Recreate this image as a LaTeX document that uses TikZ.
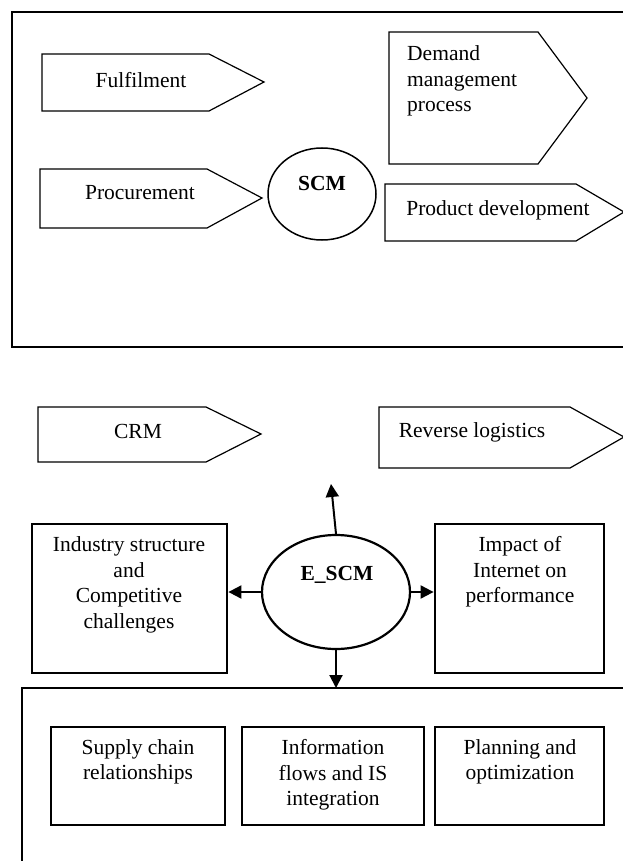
\documentclass[tikz,border=0pt]{standalone}
\usepackage{fontspec}
\setmainfont{Liberation Serif}
\usetikzlibrary{arrows.meta,positioning,shapes.geometric}
\tikzset{
  txt/.style={font=\fontsize{21.5}{25.5}\selectfont,inner sep=0pt,align=center},
  pentagon/.style={draw,line width=1.2pt,line join=miter},
  frame/.style={draw,line width=2.8pt},
  sidebox/.style={draw,line width=2.8pt,minimum height=149pt},
  factor/.style={draw,line width=2pt,minimum height=98pt},
  link/.style={line width=2pt,-{Triangle[length=13pt,width=13pt]}},
}

\begin{document}
\begin{tikzpicture}[x=1pt,y=-1pt]
        \clip (0,0) rectangle (623,861);
        % SCM part
        \draw[frame] (640,12) -- (12,12) -- (12,347) -- (640,347);
        \draw[pentagon] (42,54) -- (209,54) -- (264,82) -- (209,111) -- (42,111) -- cycle;
        \draw[pentagon] (40,169) -- (207,169) -- (262,198) -- (207,228) -- (40,228) -- cycle;
        \draw[pentagon] (389,32) -- (538,32) -- (587,98) -- (538,164) -- (389,164) -- cycle;
        \draw[pentagon] (385,184) -- (576,184) -- (624,212) -- (576,241) -- (385,241) -- cycle;
        \node[txt] (fulfil) at (141,80) {Fulfilment};
        \node[txt] (procure) at (140,193) {Procurement};
        \node[txt,anchor=west,align=left] (demand) at (407,81) {Demand\\management\\process};
        \node[txt] (product) at (498,210) {Product development};
        \node[ellipse,draw,line width=1.5pt,minimum width=108pt,minimum height=92pt] (scm) at (322,194) {};
        \node[txt,font=\fontsize{21.5}{25.5}\selectfont\bfseries] (scmtxt) at (322,183) {SCM};
        % E_SCM part
        \draw[pentagon] (38,407) -- (206,407) -- (261,434) -- (206,462) -- (38,462) -- cycle;
        \draw[pentagon] (379,407) -- (570,407) -- (624,437) -- (570,468) -- (379,468) -- cycle;
        \node[txt] (crm) at (138,431) {CRM};
        \node[txt] (reverse) at (472,432) {Reverse logistics};
        \node[ellipse,draw,line width=2.2pt,minimum width=148pt,minimum height=114pt] (escm) at (336,592) {};
        \node[txt,font=\fontsize{21.5}{25.5}\selectfont\bfseries] (escmtxt) at (337,575) {E\_SCM};
        \node[sidebox,minimum width=195pt] (ind) at (129.5,598.5) {};
        \node[sidebox,minimum width=169pt] (imp) at (519.5,598.5) {};
        \node[txt] (indtxt) at (129,585) {Industry structure\\and\\Competitive\\challenges};
        \node[txt] (imptxt) at (520,572) {Impact of\\Internet on\\performance};
        \draw[frame] (640,688) -- (22,688) -- (22,880);
        \coordinate (lowtop) at (22,688);
        \coordinate (uptip) at (331,484);
        \node[factor,minimum width=174pt] (supply) at (138,776) {};
        \node[factor,minimum width=182pt] (info) at (333,776) {};
        \node[factor,minimum width=169pt] (plan) at (519.5,776) {};
        \node[txt] (supplytxt) at (138,762) {Supply chain\\relationships};
        \node[txt] (infotxt) at (333,775) {Information\\flows and IS\\integration};
        \node[txt] (plantxt) at (520,762) {Planning and\\optimization};
        \draw[link] (escm.north) -- (uptip);
        \draw[link] (escm.west) -- (escm.west -| ind.east);
        \draw[link] (escm.east) -- (escm.east -| imp.west);
        \draw[link] (escm.south) -- (escm.south |- lowtop);
\end{tikzpicture}
\end{document}
